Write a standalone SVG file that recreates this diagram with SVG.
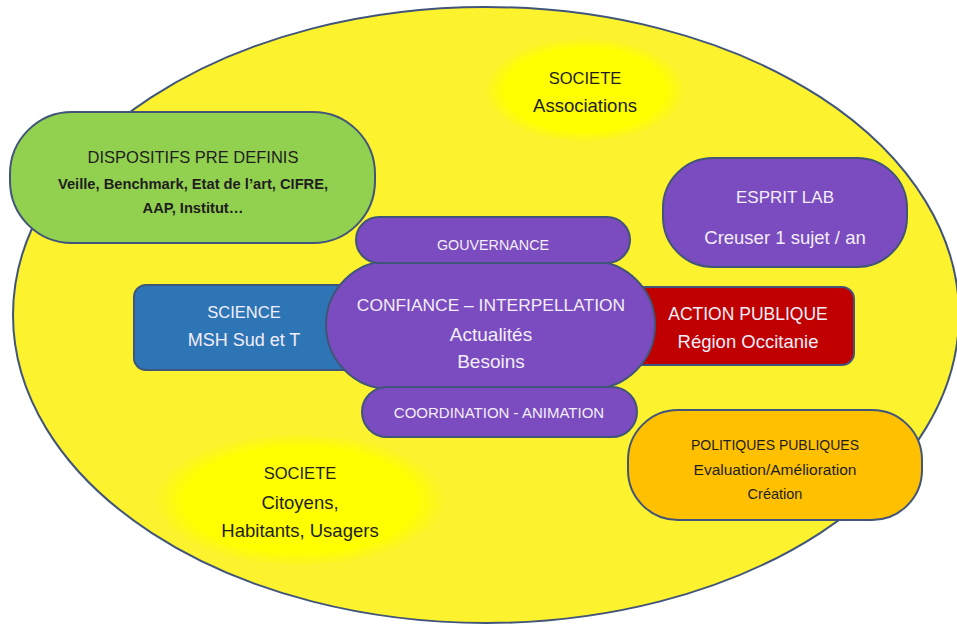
<svg xmlns="http://www.w3.org/2000/svg" width="957" height="624" viewBox="0 0 957 624">
<style>
.t{font-family:"Liberation Sans",Arial,sans-serif;text-anchor:middle}
.dk{fill:#1e1e1e}
.wh{fill:#f3eefa}
.st{stroke:#41557a;stroke-width:2}
</style>
<defs>
<radialGradient id="soft" cx="0.5" cy="0.5" r="0.5">
<stop offset="0" stop-color="#ffff00"/>
<stop offset="0.8" stop-color="#ffff00"/>
<stop offset="1" stop-color="#ffff00" stop-opacity="0"/>
</radialGradient>
</defs>
<rect width="957" height="624" fill="#ffffff"/>
<g id="monde">
<ellipse cx="486" cy="315" rx="473" ry="308" fill="#fcf22d" class="st"/>
</g>
<g id="societe-associations">
<ellipse cx="585" cy="90" rx="100" ry="52" fill="url(#soft)"/>
<text class="t dk" x="585" y="84" font-size="16.5">SOCIETE</text>
<text class="t dk" x="585" y="112" font-size="18.5">Associations</text>
</g>
<g id="societe-citoyens">
<ellipse cx="300" cy="500" rx="145" ry="66" fill="url(#soft)"/>
<text class="t dk" x="300" y="479" font-size="16.5">SOCIETE</text>
<text class="t dk" x="300" y="509" font-size="18.5">Citoyens,</text>
<text class="t dk" x="300" y="537" font-size="18.5">Habitants, Usagers</text>
</g>
<g id="dispositifs">
<rect x="10" y="112" width="365" height="131" rx="62" fill="#92d050" class="st"/>
<text class="t dk" x="193" y="163" font-size="16.5">DISPOSITIFS PRE DEFINIS</text>
<text class="t dk" x="193" y="189" font-size="14.7" font-weight="bold">Veille, Benchmark, Etat de l’art, CIFRE,</text>
<text class="t dk" x="193" y="213" font-size="14.7" font-weight="bold">AAP, Institut…</text>
</g>
<g id="esprit-lab">
<rect x="663" y="158" width="244" height="109" rx="50" fill="#7b4cbf" class="st"/>
<text class="t wh" x="785" y="203" font-size="17">ESPRIT LAB</text>
<text class="t wh" x="785" y="244" font-size="18.5">Creuser 1 sujet / an</text>
</g>
<g id="politiques">
<rect x="628" y="410" width="294" height="110" rx="50" fill="#ffc000" class="st"/>
<text class="t dk" x="775" y="450" font-size="14">POLITIQUES PUBLIQUES</text>
<text class="t dk" x="775" y="475" font-size="15.5">Evaluation/Amélioration</text>
<text class="t dk" x="775" y="499" font-size="14.5">Création</text>
</g>
<g id="science">
<rect x="134" y="285" width="230" height="85" rx="12" fill="#2e75b6" class="st"/>
<text class="t wh" x="244" y="318" font-size="16.5">SCIENCE</text>
<text class="t wh" x="244" y="346" font-size="18">MSH Sud et T</text>
</g>
<g id="action-publique">
<rect x="620" y="287" width="234" height="78" rx="12" fill="#c00000" class="st"/>
<text class="t wh" x="748" y="320" font-size="17.5">ACTION PUBLIQUE</text>
<text class="t wh" x="748" y="348" font-size="18.5">Région Occitanie</text>
</g>
<g id="confiance">
<rect x="326" y="261" width="329" height="128" rx="64" fill="#7b4cbf" class="st"/>
<text class="t wh" x="491" y="311" font-size="17.4">CONFIANCE – INTERPELLATION</text>
<text class="t wh" x="491" y="341" font-size="19">Actualités</text>
<text class="t wh" x="491" y="368" font-size="19">Besoins</text>
</g>
<g id="gouvernance">
<rect x="356" y="217" width="274" height="46" rx="23" fill="#7b4cbf" class="st"/>
<text class="t wh" x="493" y="250" font-size="14.3">GOUVERNANCE</text>
</g>
<g id="coordination">
<rect x="362" y="387" width="275" height="50" rx="25" fill="#7b4cbf" class="st"/>
<text class="t wh" x="499" y="418" font-size="15">COORDINATION - ANIMATION</text>
</g>
<g id="connectors"/>
</svg>
